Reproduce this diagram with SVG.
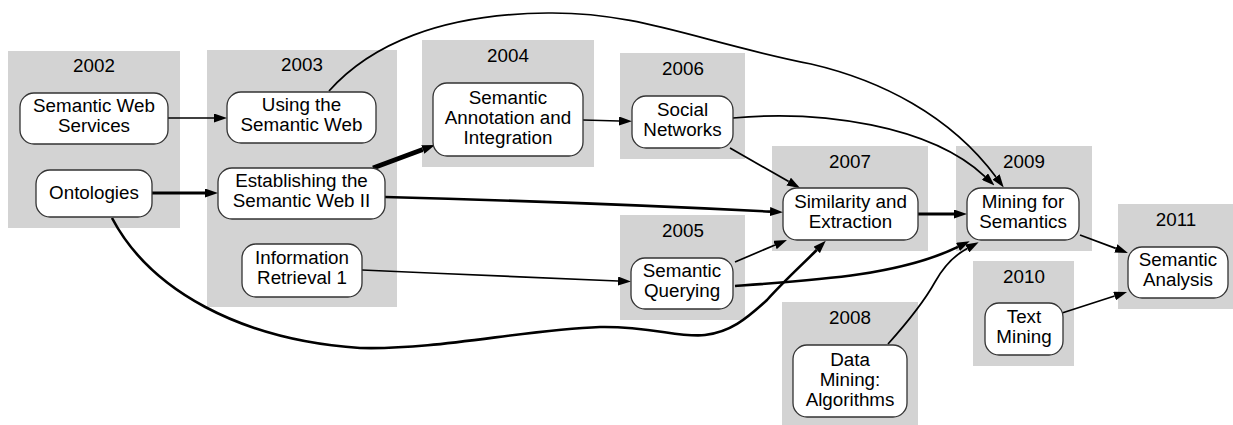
<svg xmlns="http://www.w3.org/2000/svg" width="1233" height="425" viewBox="0 0 1233 425">
  <style>
    .cluster rect { fill: #d3d3d3; stroke: none; }
    .cluster text { font-family: "Liberation Sans", Arial, sans-serif; font-size: 18.8px; fill: #000; text-anchor: middle; }
    .node rect { fill: #ffffff; stroke: #333333; stroke-width: 1.3; }
    .node text { font-family: "Liberation Sans", Arial, sans-serif; font-size: 18.8px; fill: #000; text-anchor: middle; }
    .edge { fill: none; stroke: #000; stroke-width: 1.7; marker-end: url(#arrow); }
    .w2 { stroke-width: 2.6; }
    .w3 { stroke-width: 3.2; }
    .w4 { stroke-width: 4.6; }
  </style>
  <defs>
    <marker id="arrow" viewBox="0 0 13 9" markerWidth="13" markerHeight="9" refX="0" refY="4.5" orient="auto" markerUnits="userSpaceOnUse">
      <path d="M0,0 L13,4.5 L0,9 z" fill="#000"/>
    </marker>
  </defs>

  <!-- year clusters -->
  <g id="clusters">
    <g id="y2002" class="cluster"><rect x="8" y="51" width="172" height="177"/><text x="94" y="72">2002</text></g>
    <g id="y2003" class="cluster"><rect x="207" y="50" width="190" height="257"/><text x="302" y="71">2003</text></g>
    <g id="y2004" class="cluster"><rect x="422" y="40" width="172" height="127"/><text x="508" y="62">2004</text></g>
    <g id="y2006" class="cluster"><rect x="620" y="53" width="125" height="106"/><text x="683" y="75">2006</text></g>
    <g id="y2005" class="cluster"><rect x="620" y="215" width="125" height="105"/><text x="683" y="237">2005</text></g>
    <g id="y2007" class="cluster"><rect x="772" y="146" width="156" height="105"/><text x="850" y="168">2007</text></g>
    <g id="y2009" class="cluster"><rect x="956" y="146" width="136" height="105"/><text x="1024" y="168">2009</text></g>
    <g id="y2008" class="cluster"><rect x="782" y="302" width="136" height="123"/><text x="850" y="324">2008</text></g>
    <g id="y2010" class="cluster"><rect x="973" y="261" width="101" height="105"/><text x="1024" y="283">2010</text></g>
    <g id="y2011" class="cluster"><rect x="1118" y="204" width="115" height="105"/><text x="1176" y="226">2011</text></g>
  </g>

  <!-- connectors -->
  <g id="connectors">
    <path class="edge" d="M168,118 L214,118"/>
    <path class="edge w3" d="M152,193 L205,193"/>
    <path class="edge w4" d="M373,168 L422.8,149.5"/>
    <path class="edge" d="M583,120 L619,121"/>
    <path class="edge" d="M329,91 C370,45 440,14 548,13 C640,12 700,42 811,64 C880,80 950,115 996,177"/>
    <path class="edge" d="M733,118 C820,110 930,125 985,176.6"/>
    <path class="edge" d="M730,148 L788.7,181.6"/>
    <path class="edge w2" d="M385,197 C500,200 680,207 770,211.6"/>
    <path class="edge w3" d="M918,214 L954,214"/>
    <path class="edge" d="M362,270 C450,274 550,278 618,281"/>
    <path class="edge" d="M735,262 L775,245"/>
    <path class="edge w2" d="M735,286 C820,280 900,275 958,246.9"/>
    <path class="edge w2" d="M112,218 C150,290 240,340 360,348 C440,350 520,330 600,327 C650,326 680,338 705,335 C730,332 745,320 767,300 C785,280 805,262 816.7,250"/>
    <path class="edge" d="M888,344 C905,325 925,300 935,282 C945,264 955,255 967.2,248.4"/>
    <path class="edge" d="M1080,235 L1115.8,248.4"/>
    <path class="edge" d="M1062,313 L1114.6,296"/>
  </g>

  <!-- topic nodes -->
  <g id="semantic-web-services" class="node"><rect x="20" y="93" width="148" height="51" rx="14"/><text x="94" y="112">Semantic Web</text><text x="94" y="132">Services</text></g>
  <g id="ontologies" class="node"><rect x="36" y="170" width="116" height="47" rx="14"/><text x="94" y="199">Ontologies</text></g>
  <g id="using-semantic-web" class="node"><rect x="227" y="92" width="149" height="51" rx="14"/><text x="301.5" y="111">Using the</text><text x="301.5" y="131">Semantic Web</text></g>
  <g id="establishing-semantic-web" class="node"><rect x="218" y="168" width="167" height="51" rx="14"/><text x="301.5" y="187">Establishing the</text><text x="301.5" y="207">Semantic Web II</text></g>
  <g id="information-retrieval" class="node"><rect x="242" y="244" width="120" height="53" rx="14"/><text x="302" y="264">Information</text><text x="302" y="284">Retrieval 1</text></g>
  <g id="semantic-annotation" class="node"><rect x="433" y="83" width="150" height="73" rx="14"/><text x="508" y="104">Semantic</text><text x="508" y="124">Annotation and</text><text x="508" y="144">Integration</text></g>
  <g id="social-networks" class="node"><rect x="632" y="96" width="101" height="52" rx="14"/><text x="682.5" y="116">Social</text><text x="682.5" y="136">Networks</text></g>
  <g id="semantic-querying" class="node"><rect x="631" y="258" width="102" height="51" rx="14"/><text x="682" y="277">Semantic</text><text x="682" y="297">Querying</text></g>
  <g id="similarity-extraction" class="node"><rect x="783" y="188" width="135" height="52" rx="14"/><text x="850.5" y="208">Similarity and</text><text x="850.5" y="228">Extraction</text></g>
  <g id="mining-semantics" class="node"><rect x="967" y="188" width="112" height="52" rx="14"/><text x="1023" y="208">Mining for</text><text x="1023" y="228">Semantics</text></g>
  <g id="data-mining" class="node"><rect x="793" y="345" width="114" height="72" rx="14"/><text x="850" y="366">Data</text><text x="850" y="386">Mining:</text><text x="850" y="406">Algorithms</text></g>
  <g id="text-mining" class="node"><rect x="985" y="303" width="78" height="52" rx="14"/><text x="1024" y="323">Text</text><text x="1024" y="343">Mining</text></g>
  <g id="semantic-analysis" class="node"><rect x="1128" y="247" width="100" height="51" rx="14"/><text x="1178" y="266">Semantic</text><text x="1178" y="286">Analysis</text></g>
</svg>
